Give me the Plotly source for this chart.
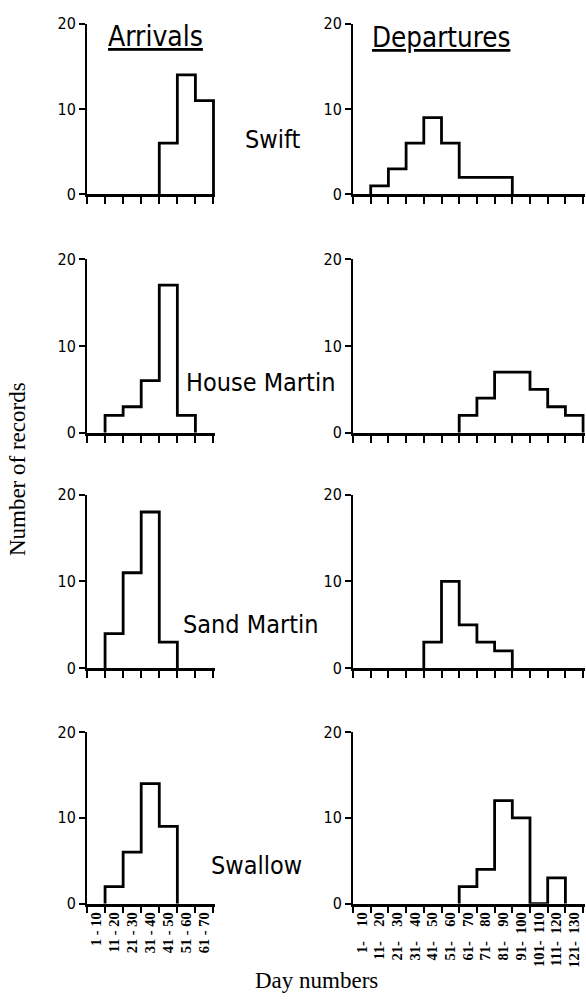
import plotly.graph_objects as go
from plotly.subplots import make_subplots

# ---------------- data ----------------
arrival_bins = ["1- 10", "11- 20", "21- 30", "31- 40", "41- 50", "51- 60", "61- 70"]
departure_bins = ["1- 10", "11- 20", "21- 30", "31- 40", "41- 50", "51- 60", "61- 70",
                  "71- 80", "81- 90", "91- 100", "101- 110", "111- 120", "121- 130"]
species = ["Swift", "House Martin", "Sand Martin", "Swallow"]

swift_arr = [0, 0, 0, 0, 6, 14, 11]
swift_dep = [0, 1, 3, 6, 9, 6, 2, 2, 2, 0, 0, 0, 0]
house_martin_arr = [0, 2, 3, 6, 17, 2, 0]
house_martin_dep = [0, 0, 0, 0, 0, 0, 2, 4, 7, 7, 5, 3, 2]
sand_martin_arr = [0, 4, 11, 18, 3, 0, 0]
sand_martin_dep = [0, 0, 0, 0, 3, 10, 5, 3, 2, 0, 0, 0, 0]
swallow_arr = [0, 2, 6, 14, 9, 0, 0]
swallow_dep = [0, 0, 0, 0, 0, 0, 2, 4, 12, 10, 0, 3, 0]

y_tick_values = [0, 10, 20]

arrivals = [swift_arr, house_martin_arr, sand_martin_arr, swallow_arr]
departures = [swift_dep, house_martin_dep, sand_martin_dep, swallow_dep]

# ---------------- layout helpers ----------------
W, H = 586, 1003
SANS = "DejaVu Sans Condensed, Liberation Sans Narrow, DejaVu Sans"
SERIF = "Liberation Serif, DejaVu Serif, serif"

col_px = [(87, 87 + 7.1 * 18.07), (353, 353 + 13.1 * 17.7)]
row_px = [(15, 189), (255, 432), (495, 672), (737, 912)]


def step_xy(vals):
    nz = [i for i, v in enumerate(vals) if v > 0]
    a, b = nz[0], nz[-1]
    xs = [a] + list(range(a, b + 1)) + [b + 1]
    ys = [0] + [vals[i] for i in range(a, b + 1)] + [0]
    return xs, ys


def fmt_arr(label):
    lo, hi = label.split("- ")
    return lo + " - " + hi


def fmt_dep(label):
    lo, hi = label.split("- ")
    return lo + "-\u2007" + hi.rjust(3, "\u2007")


fig = make_subplots(rows=4, cols=2, horizontal_spacing=0.05, vertical_spacing=0.05)

for r in range(4):
    for c, (data, bins) in enumerate([(arrivals[r], arrival_bins), (departures[r], departure_bins)]):
        xs, ys = step_xy(data)
        fig.add_trace(go.Scatter(x=xs, y=ys, mode="lines", line=dict(shape="hv", color="black", width=2.8),
                                 hoverinfo="skip", showlegend=False), row=r + 1, col=c + 1)
        n = len(bins)
        centers = [i + 0.5 for i in range(n)]
        texts = [fmt_arr(b) for b in bins] if c == 0 else [fmt_dep(b) for b in bins]
        x0, x1 = col_px[c]
        top, bot = row_px[r]
        fig.update_xaxes(row=r + 1, col=c + 1,
                         domain=[x0 / W, x1 / W], range=[0, n + 0.1],
                         showline=True, linecolor="black", linewidth=2.5,
                         showgrid=False, zeroline=False,
                         tickmode="array", tickvals=centers, ticktext=texts,
                         ticks="", showticklabels=(r == 3), tickangle=-90,
                         tickfont=dict(family=SERIF, size=14.5, color="black", weight="bold"),
                         minor=dict(tickmode="array", tickvals=list(range(n + 1)), ticks="outside",
                                    ticklen=7, tickwidth=2, tickcolor="black", showgrid=False),
                         fixedrange=True)
        fig.update_yaxes(row=r + 1, col=c + 1,
                         domain=[1 - bot / H, 1 - top / H], range=[0, 20],
                         showline=True, linecolor="black", linewidth=2,
                         showgrid=False, zeroline=False,
                         tickmode="array", tickvals=y_tick_values,
                         ticks="outside", ticklen=6, tickwidth=2, tickcolor="black",
                         tickfont=dict(family=SANS, size=16, color="black"),
                         fixedrange=True)

annots = []


def add_text(text, cx, cy, size, family=SANS, angle=0):
    annots.append(dict(text=text, x=cx / W, y=1 - cy / H, xref="paper", yref="paper",
                       xanchor="center", yanchor="middle", showarrow=False, textangle=angle,
                       font=dict(family=family, size=size, color="black")))


add_text("<u>Arrivals</u>", 155, 28, 28)
add_text("<u>Departures</u>", 441, 29, 27.5)
species_pos = [(272, 133), (260, 381), (251, 627), (256, 873)]
for name, (cx, cy) in zip(species, species_pos):
    add_text(name, cx, cy, 25)
add_text("Number of records", 17, 469, 23, family=SERIF, angle=-90)
add_text("Day numbers", 316, 990, 23, family=SERIF)

fig.update_layout(width=W, height=H, margin=dict(l=0, r=0, t=0, b=0),
                  paper_bgcolor="white", plot_bgcolor="white",
                  annotations=annots, showlegend=False)

fig.write_html("out.html", config={"displayModeBar": False})
